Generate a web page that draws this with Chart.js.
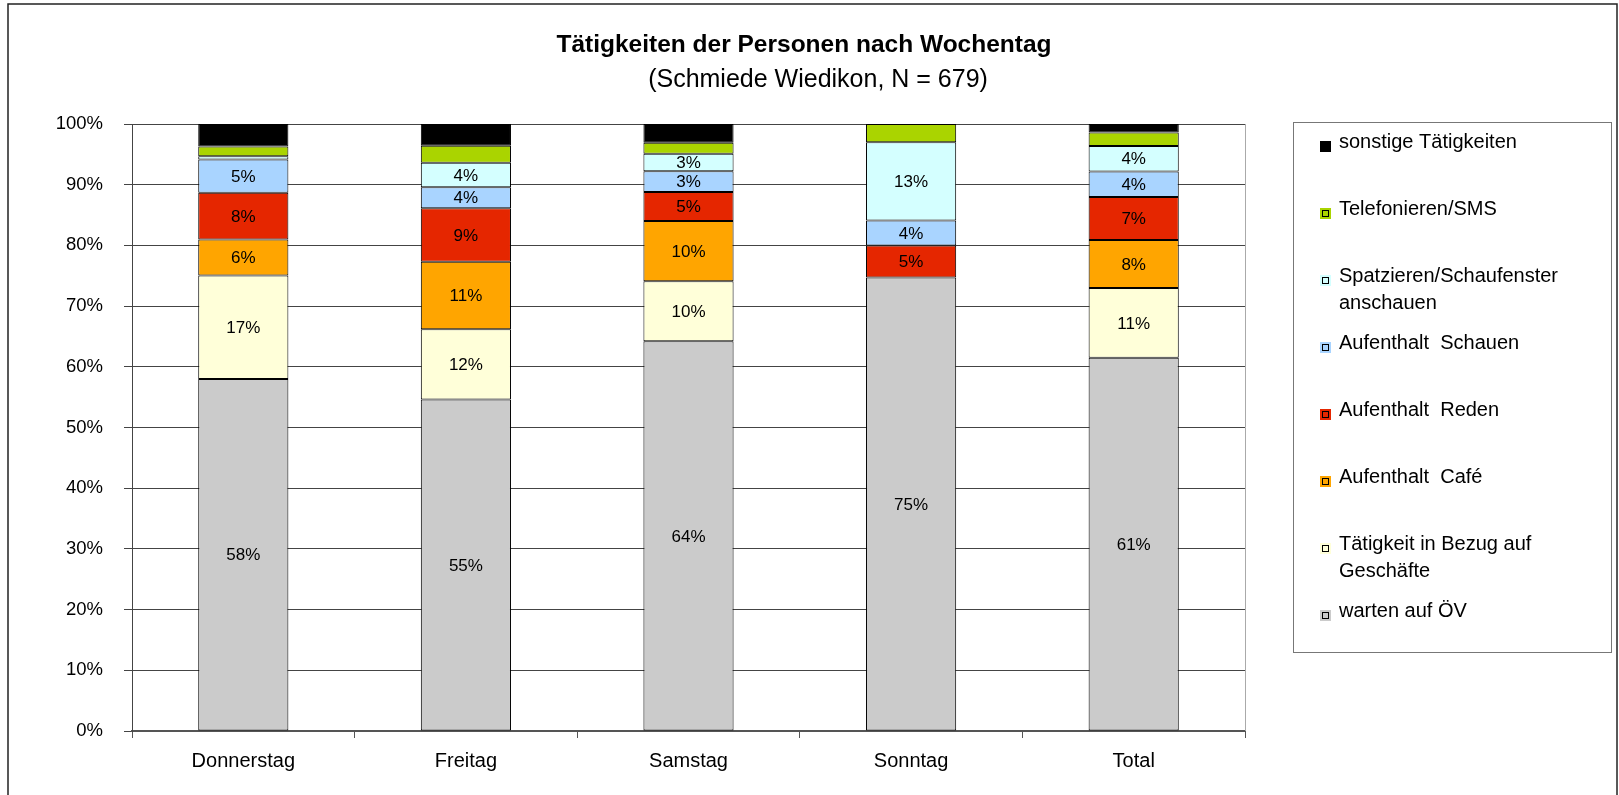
<!DOCTYPE html>
<html>
<head>
<meta charset="utf-8">
<script src="https://cdn.jsdelivr.net/npm/chart.js@4/dist/chart.umd.min.js"></script>
<style>
  html, body { margin: 0; padding: 0; background: #fff; }
  #wrap { width: 1619px; height: 795px; }
</style>
</head>
<body>
<div id="wrap"><canvas id="c" width="1619" height="795"></canvas></div>
<script>
// ---- data (% per day) ----
const days = ['Donnerstag', 'Freitag', 'Samstag', 'Sonntag', 'Total'];
const warten      = [58.0, 54.6, 64.2, 74.7, 61.49];
const geschaefte  = [17.06, 11.6, 9.9, 0, 11.49];
const cafe        = [5.9, 11.1, 9.9, 0, 7.9];
const reden       = [7.7, 8.8, 4.8, 5.3, 7.1];
const schauen     = [5.49, 3.5, 3.4, 4.1, 4.2];
const spazieren   = [0.55, 4.0, 2.9, 12.9, 4.2];
const telefon     = [1.6, 2.8, 1.8, 3.0, 2.2];
const sonstige    = [3.7, 3.6, 3.1, 0, 1.42];
const yTicks = [0, 10, 20, 30, 40, 50, 60, 70, 80, 90, 100];

const FONT = '"Liberation Sans", Arial, Helvetica, sans-serif';

// bottom → top stacking order; legend shows them top → bottom
const series = [
  { label: 'warten auf ÖV',                       data: warten,     color: '#CBCBCB', tag: true },
  { label: 'Tätigkeit in Bezug auf\nGeschäfte',   data: geschaefte, color: '#FFFFD9', tag: true },
  { label: 'Aufenthalt  Café',                    data: cafe,       color: '#FFA500', tag: true },
  { label: 'Aufenthalt  Reden',                   data: reden,      color: '#E52600', tag: true },
  { label: 'Aufenthalt  Schauen',                 data: schauen,    color: '#A9D4FF', tag: true },
  { label: 'Spatzieren/Schaufenster\nanschauen',  data: spazieren,  color: '#D4FFFF', tag: true },
  { label: 'Telefonieren/SMS',                    data: telefon,    color: '#AAD400', tag: false },
  { label: 'sonstige Tätigkeiten',                data: sonstige,   color: '#000000', tag: false },
];

// % labels centred in each segment (not on green / black)
const segLabels = {
  id: 'segLabels',
  afterDatasetsDraw(chart) {
    const { ctx } = chart;
    ctx.save();
    ctx.font = '17px ' + FONT; ctx.fillStyle = '#000'; ctx.textAlign = 'center'; ctx.textBaseline = 'middle';
    chart.data.datasets.forEach((ds, di) => {
      if (!series[di].tag) return;
      chart.getDatasetMeta(di).data.forEach((bar, i) => {
        const v = ds.data[i];
        if (v == null || v < 1) return;
        ctx.fillText(Math.round(v) + '%', bar.x, (bar.y + bar.base) / 2 + 1);
      });
    });
    ctx.restore();
  },
};

// frame, titles, plot border and the boxed legend on the right
const deco = {
  id: 'deco',
  beforeDraw(chart) {
    const { ctx } = chart;
    ctx.save(); ctx.fillStyle = '#fff'; ctx.fillRect(0, 0, chart.width, chart.height); ctx.restore();
  },
  afterDraw(chart) {
    const { ctx, chartArea: a } = chart;
    ctx.save();
    // outer frame
    ctx.strokeStyle = '#222'; ctx.lineWidth = 1.5;
    ctx.strokeRect(8, 4, 1609, 800);
    // right edge of plot
    ctx.strokeStyle = '#aaa'; ctx.lineWidth = 1;
    ctx.beginPath(); ctx.moveTo(a.right + 0.5, a.top); ctx.lineTo(a.right + 0.5, a.bottom); ctx.stroke();
    // titles
    ctx.fillStyle = '#000'; ctx.textAlign = 'center'; ctx.textBaseline = 'alphabetic';
    ctx.font = 'bold 24.5px ' + FONT;
    ctx.fillText('Tätigkeiten der Personen nach Wochentag', 804, 52);
    ctx.font = '25px ' + FONT;
    ctx.fillText('(Schmiede Wiedikon, N = 679)', 818, 87);
    // legend
    ctx.strokeStyle = '#777'; ctx.lineWidth = 1;
    ctx.strokeRect(1293.5, 122.5, 318, 530);
    ctx.font = '20px ' + FONT; ctx.textAlign = 'left';
    const items = series.slice().reverse();
    items.forEach((s, k) => {
      const base = 147.5 + k * 67;
      const lines = s.label.split('\n');
      lines.forEach((ln, j) => ctx.fillText(ln, 1339, base + j * 27.5));
      const mx = 1320, my = Math.round(base - 7);
      ctx.fillStyle = s.color; ctx.fillRect(mx, my, 11, 11);
      if (s.color !== '#000000') { ctx.strokeStyle = '#000'; ctx.strokeRect(mx + 2.5, my + 2.5, 6, 6); }
      ctx.fillStyle = '#000';
    });
    ctx.restore();
  },
};

new Chart(document.getElementById('c'), {
  type: 'bar',
  data: {
    labels: days,
    datasets: series.map((s) => ({
      label: s.label, data: s.data, backgroundColor: s.color,
      borderColor: '#000', borderWidth: 1, borderSkipped: false,
      barPercentage: 0.405, categoryPercentage: 1,
    })),
  },
  options: {
    responsive: false, animation: false,
    layout: { padding: { top: 124, right: 374, bottom: 0, left: 0 } },
    plugins: { legend: { display: false }, tooltip: { enabled: false }, title: { display: false } },
    scales: {
      x: {
        stacked: true,
        afterFit: (s) => { s.height = 64; },
        grid: { display: true, drawOnChartArea: false, drawTicks: true, tickLength: 7, offset: true, color: '#555' },
        border: { display: true, color: '#555', width: 2 },
        ticks: { color: '#000', font: { family: FONT, size: 20 }, padding: 11, maxRotation: 0 },
      },
      y: {
        stacked: true, min: 0, max: 100,
        afterFit: (s) => { s.width = 132; },
        afterBuildTicks: (s) => { s.ticks = yTicks.map((v) => ({ value: v })); },
        grid: { color: '#444', lineWidth: 1, tickLength: 8, drawTicks: true },
        border: { display: true, color: '#444', width: 1 },
        ticks: { color: '#000', font: { family: FONT, size: 18.5 }, padding: 21, callback: (v) => v + '%' },
      },
    },
  },
  plugins: [segLabels, deco],
});
</script>
</body>
</html>
